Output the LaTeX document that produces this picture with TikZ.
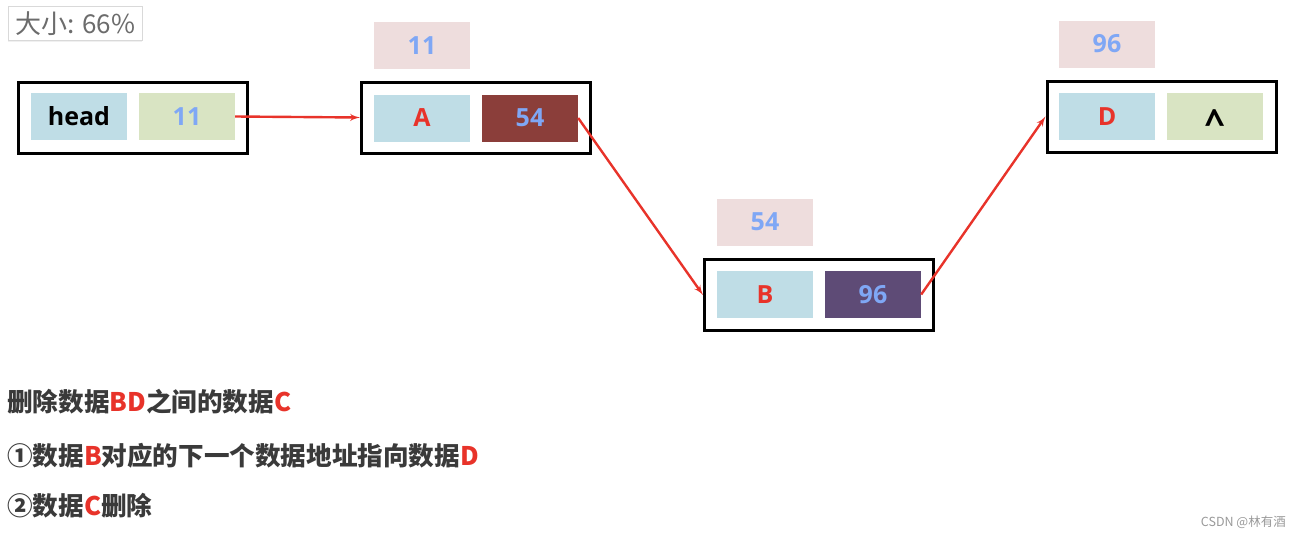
\documentclass[tikz,border=0pt]{standalone}
\usepackage{fontspec}
\setmainfont{Open Sans}
\newfontfamily\cjk{Noto Sans CJK SC}
\usetikzlibrary{arrows,shadows}

\definecolor{cellblue}{HTML}{BFDDE6}
\definecolor{cellgreen}{HTML}{D9E4C3}
\definecolor{tagpink}{HTML}{EEDDDD}
\definecolor{ptrred}{HTML}{8B3E3A}
\definecolor{ptrpurple}{HTML}{5E4B76}
\definecolor{numblue}{HTML}{7FA7F5}
\definecolor{linkred}{HTML}{E8332A}
\definecolor{notegray}{HTML}{3A3A3A}

\newcommand{\redtxt}[1]{\textcolor{linkred}{#1}}

\tikzstyle{cell}=[minimum width=96pt,minimum height=47pt,inner sep=0pt,font=\fontsize{25}{28}\selectfont\bfseries]
\tikzstyle{datacell}=[cell,fill=cellblue,text=linkred]
\tikzstyle{addrcell}=[cell,text=numblue]
\tikzstyle{addrtag}=[cell,fill=tagpink,text=numblue]
\tikzstyle{nodebox}=[draw=black,line width=3pt,minimum width=229pt,minimum height=71pt,inner sep=0pt]
\tikzstyle{link}=[draw=linkred,line width=2.4pt,-latex']
\tikzstyle{note}=[anchor=west,inner sep=0pt,text=notegray,font=\cjk\fontsize{25.6}{30}\selectfont\bfseries]

\begin{document}
\begin{tikzpicture}[x=1pt,y=-1pt]
    \useasboundingbox (0,0) rectangle (1300,538);

    % zoom hint in the corner
    \node[anchor=north west,draw=gray!30,fill=white,drop shadow={opacity=0.12,shadow xshift=0pt,shadow yshift=-2pt},
          minimum width=134pt,minimum height=34pt,inner sep=0pt,text=gray!85!black,
          font=\cjk\fontsize{26}{28}\selectfont] (zoomtag) at (8,6) {大小: 66\%};

    % head
    \node[nodebox] (headbox) at (133,117.5) {};
    \node[cell,fill=cellblue] (head) at (79,116.5) {head};
    \node[addrcell,fill=cellgreen] (headnext) at (187,116.5) {11};

    % A, address 11
    \node[addrtag] (Atag) at (422,45.5) {11};
    \node[nodebox] (Abox) at (476,117.5) {};
    \node[datacell] (A) at (422,118) {A};
    \node[addrcell,fill=ptrred] (Anext) at (530,118) {54};

    % B, address 54
    \node[addrtag] (Btag) at (765,222) {54};
    \node[nodebox] (Bbox) at (819,295) {};
    \node[datacell] (B) at (765,294.5) {B};
    \node[addrcell,fill=ptrpurple] (Bnext) at (873,294.5) {96};

    % D, address 96, next is empty
    \node[addrtag] (Dtag) at (1107,44) {96};
    \node[nodebox] (Dbox) at (1161.5,116.5) {};
    \node[datacell] (D) at (1107,116.5) {D};
    \node[cell,fill=cellgreen,text=black,text height=38pt,text depth=0pt,
          font=\fontsize{36}{40}\selectfont\bfseries] (Dnext) at (1215,116.5) {\^{}};

    \path [link] (headnext.east) -- (Abox.west);
    \path [link] (Anext.east) -- (Bbox.west);
    \path [link] (Bnext.east) -- (Dbox.west);

    \node[note] (note0) at (7,402) {删除数据\redtxt{BD}之间的数据\redtxt{C}};
    \node[note] (note1) at (7,456) {①数据\redtxt{B}对应的下一个数据地址指向数据\redtxt{D}};
    \node[note] (note2) at (7,506) {②数据\redtxt{C}删除};

    \node[anchor=east,inner sep=0pt,text=gray!80,font=\cjk\fontsize{12.5}{15}\selectfont] (mark) at (1286,522) {CSDN @林有酒};
\end{tikzpicture}
\end{document}
